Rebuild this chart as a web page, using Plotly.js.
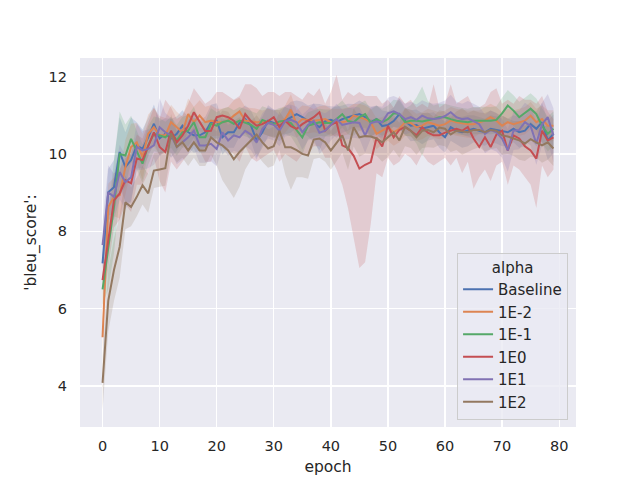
<!DOCTYPE html>
<html>
<head>
<meta charset="utf-8">
<script src="https://cdn.plot.ly/plotly-3.0.1.min.js"></script>
<style>
  html, body { margin: 0; padding: 0; background: #fff; }
  #chart { width: 640px; height: 480px; }
</style>
</head>
<body>
<div id="chart"></div>
<script>
// seaborn 풍 lineplot: alpha 별 bleu_score 평균선 + 95% CI 밴드
const epochs = Array.from({ length: 80 }, (_, i) => i);

const alphas = ['Baseline', '1E-2', '1E-1', '1E0', '1E1', '1E2'];

// 평균값
const meanBaseline = [
  7.17, 9.01, 9.14, 10.05, 9.66, 9.84, 10.22, 10.13, 10.43, 10.78,
  10.40, 10.52, 10.40, 10.52, 10.73, 10.56, 10.48, 10.48, 10.56, 10.82,
  10.86, 10.43, 10.56, 10.56, 10.80, 10.90, 10.73, 10.35, 10.56, 10.86,
  10.80, 10.73, 10.86, 10.95, 11.03, 10.95, 10.85, 10.80, 10.69, 10.85,
  10.88, 10.82, 10.90, 10.95, 10.99, 11.03, 10.95, 10.82, 10.90, 10.72,
  10.75, 10.85, 11.03, 10.85, 10.73, 10.75, 10.65, 10.70, 10.73, 10.56,
  10.43, 10.69, 10.60, 10.56, 10.60, 10.65, 10.60, 10.56, 10.65, 10.62,
  10.60, 10.56, 10.65, 10.56, 10.60, 10.77, 10.65, 10.82, 10.35, 10.52];
const mean1Em2 = [
  5.26, 8.63, 8.89, 8.93, 9.66, 10.18, 10.30, 9.92, 10.52, 10.69,
  10.48, 10.48, 10.82, 10.69, 10.56, 11.03, 10.82, 10.99, 10.82, 10.86,
  10.82, 10.82, 10.86, 10.99, 11.10, 10.86, 10.84, 10.82, 10.82, 10.82,
  10.77, 10.80, 10.90, 11.14, 10.77, 10.90, 10.88, 10.86, 10.88, 10.90,
  10.82, 10.82, 10.82, 10.85, 10.99, 10.95, 10.90, 10.82, 10.52, 10.60,
  10.69, 10.56, 10.65, 10.82, 10.80, 10.69, 10.73, 10.82, 10.78, 10.73,
  10.77, 10.86, 10.82, 10.80, 10.77, 10.77, 10.82, 10.86, 10.95, 10.86,
  10.73, 10.82, 10.77, 10.82, 10.86, 10.99, 10.82, 10.90, 10.73, 10.73];
const mean1Em1 = [
  6.50, 7.50, 8.63, 10.00, 9.96, 10.39, 10.09, 9.75, 10.22, 10.52,
  10.48, 10.43, 10.56, 10.35, 10.56, 10.60, 10.82, 10.43, 10.43, 10.78,
  10.73, 10.82, 10.86, 10.78, 10.86, 10.80, 10.75, 10.65, 10.88, 10.82,
  10.77, 10.84, 10.86, 10.80, 10.60, 10.43, 10.73, 10.78, 10.82, 10.80,
  10.80, 10.90, 11.03, 10.85, 10.82, 10.95, 11.03, 10.80, 10.90, 10.82,
  10.90, 11.05, 11.03, 10.82, 10.86, 10.86, 10.84, 10.87, 10.90, 10.95,
  10.95, 10.90, 10.86, 10.84, 10.82, 10.86, 10.86, 10.87, 10.86, 10.88,
  11.05, 11.25, 11.12, 10.95, 11.05, 11.17, 11.03, 10.73, 10.52, 10.65];
const mean1E0 = [
  6.74, 7.77, 8.80, 8.98, 9.32, 9.24, 9.88, 9.84, 10.22, 10.56,
  10.18, 10.05, 10.60, 10.30, 10.48, 10.73, 11.08, 10.82, 10.59, 10.60,
  10.95, 10.99, 10.95, 10.86, 10.65, 11.03, 10.85, 10.73, 10.77, 10.85,
  10.95, 10.69, 10.86, 10.72, 10.65, 10.77, 10.86, 10.95, 11.08, 10.60,
  10.75, 10.82, 10.22, 10.15, 9.95, 9.62, 9.72, 9.79, 10.42, 10.19,
  10.73, 10.43, 10.62, 10.70, 10.60, 10.48, 10.69, 10.55, 10.48, 10.48,
  10.55, 10.60, 10.65, 10.60, 10.70, 10.40, 10.18, 10.43, 10.18, 10.50,
  10.60, 10.09, 10.48, 10.40, 10.20, 10.09, 9.88, 10.60, 10.35, 10.43];
const mean1E1 = [
  7.64, 9.01, 8.89, 9.53, 9.27, 9.40, 10.18, 10.09, 10.13, 10.22,
  10.69, 10.56, 10.48, 10.18, 10.30, 10.43, 10.60, 10.22, 10.22, 10.26,
  10.13, 10.56, 10.35, 10.48, 10.43, 10.60, 10.50, 10.30, 10.65, 10.80,
  10.75, 10.60, 10.85, 10.88, 10.82, 10.56, 10.75, 10.86, 10.55, 10.60,
  10.75, 10.90, 10.75, 10.78, 10.82, 10.80, 10.48, 10.80, 10.84, 10.82,
  11.05, 11.10, 11.03, 10.90, 10.95, 10.88, 10.99, 10.92, 10.90, 10.92,
  10.98, 11.08, 10.95, 10.90, 10.92, 10.85, 10.77, 10.52, 10.62, 10.56,
  10.40, 10.09, 10.60, 10.62, 10.82, 10.72, 10.27, 10.77, 10.95, 10.48];
const mean1E2 = [
  4.08, 6.20, 7.00, 7.60, 8.75, 8.63, 8.89, 9.19, 8.98, 9.57,
  9.60, 9.63, 10.53, 10.18, 10.30, 10.09, 10.30, 10.09, 10.09, 10.43,
  10.30, 10.22, 10.09, 9.86, 10.05, 10.20, 10.35, 10.50, 10.30, 10.14,
  10.20, 10.60, 10.17, 10.17, 10.10, 10.00, 9.96, 10.37, 10.40, 10.30,
  10.09, 10.30, 10.48, 10.09, 10.69, 10.43, 10.46, 10.45, 10.40, 10.30,
  10.42, 10.56, 10.35, 10.70, 10.60, 10.43, 10.60, 10.62, 10.56, 10.68,
  10.65, 10.50, 10.60, 10.58, 10.56, 10.62, 10.62, 10.56, 10.62, 10.60,
  10.48, 10.45, 10.40, 10.35, 10.27, 10.38, 10.30, 10.22, 10.30, 10.14];

// CI 반폭 (대칭으로 읽은 값)
const hwBaseline = [
  0.5, 0.6, 0.7, 0.9, 0.9, 1.1, 0.6, 0.5, 0.5, 0.5,
  0.45, 0.4, 0.5, 0.45, 0.4, 0.4, 0.45, 0.4, 0.4, 0.45,
  0.45, 0.45, 0.4, 0.4, 0.35, 0.35, 0.4, 0.45, 0.4, 0.4,
  0.35, 0.4, 0.35, 0.4, 0.35, 0.4, 0.4, 0.5, 0.6, 0.4,
  0.35, 0.4, 0.35, 0.35, 0.3, 0.35, 0.35, 0.4, 0.35, 0.4,
  0.35, 0.35, 0.4, 0.35, 0.4, 0.4, 0.4, 0.35, 0.35, 0.4,
  0.4, 0.35, 0.35, 0.4, 0.4, 0.35, 0.35, 0.35, 0.35, 0.35,
  0.4, 0.35, 0.35, 0.4, 0.4, 0.4, 0.45, 0.5, 0.5, 0.5];
const hw1Em2 = [
  0.4, 0.6, 0.5, 0.6, 0.7, 0.6, 0.5, 0.6, 0.5, 0.5,
  0.5, 0.45, 0.45, 0.4, 0.4, 0.4, 0.4, 0.4, 0.4, 0.4,
  0.35, 0.35, 0.35, 0.4, 0.35, 0.35, 0.35, 0.35, 0.3, 0.35,
  0.35, 0.35, 0.35, 0.4, 0.35, 0.35, 0.35, 0.3, 0.35, 0.35,
  0.35, 0.35, 0.35, 0.35, 0.3, 0.35, 0.35, 0.35, 0.4, 0.35,
  0.35, 0.35, 0.35, 0.35, 0.35, 0.35, 0.35, 0.35, 0.35, 0.35,
  0.35, 0.35, 0.35, 0.35, 0.35, 0.35, 0.3, 0.35, 0.35, 0.35,
  0.35, 0.35, 0.35, 0.35, 0.35, 0.35, 0.35, 0.35, 0.4, 0.4];
const hw1Em1 = [
  0.4, 1.0, 1.2, 1.1, 0.8, 0.6, 0.5, 0.5, 0.5, 0.45,
  0.45, 0.4, 0.4, 0.4, 0.4, 0.4, 0.4, 0.4, 0.4, 0.4,
  0.35, 0.35, 0.35, 0.35, 0.35, 0.35, 0.35, 0.4, 0.35, 0.35,
  0.35, 0.35, 0.35, 0.35, 0.4, 0.45, 0.35, 0.35, 0.35, 0.35,
  0.35, 0.35, 0.35, 0.35, 0.35, 0.35, 0.35, 0.35, 0.35, 0.35,
  0.35, 0.35, 0.35, 0.35, 0.4, 0.6, 0.9, 0.5, 0.35, 0.35,
  0.35, 0.35, 0.35, 0.35, 0.35, 0.35, 0.35, 0.35, 0.35, 0.35,
  0.4, 0.4, 0.4, 0.4, 0.4, 0.4, 0.4, 0.45, 0.45, 0.45];
const hw1E1 = [
  0.6, 0.7, 0.6, 0.7, 0.7, 0.6, 0.6, 0.5, 0.5, 0.5,
  0.75, 0.5, 0.45, 0.45, 0.45, 0.45, 0.45, 0.45, 0.45, 0.45,
  0.45, 0.4, 0.4, 0.4, 0.4, 0.4, 0.4, 0.45, 0.4, 0.4,
  0.4, 0.4, 0.4, 0.4, 0.4, 0.45, 0.4, 0.45, 0.55, 0.45,
  0.4, 0.4, 0.4, 0.4, 0.4, 0.4, 0.45, 0.4, 0.4, 0.4,
  0.4, 0.4, 0.4, 0.4, 0.4, 0.4, 0.4, 0.4, 0.4, 0.4,
  0.4, 0.45, 0.4, 0.4, 0.45, 0.45, 0.45, 0.5, 0.5, 0.5,
  0.5, 0.55, 0.5, 0.5, 0.5, 0.5, 0.55, 0.55, 0.6, 0.7];
const hw1E2 = [
  0.7, 0.8, 0.8, 0.8, 0.7, 0.5, 0.5, 0.5, 0.5, 0.45,
  0.45, 0.45, 0.5, 0.4, 0.4, 0.4, 0.4, 0.4, 0.4, 0.45,
  0.6, 0.9, 1.0, 1.0, 0.9, 0.6, 0.5, 0.5, 0.5, 0.5,
  0.5, 0.5, 0.7, 1.1, 0.7, 0.6, 0.6, 0.5, 0.5, 0.5,
  0.5, 0.5, 0.45, 0.5, 0.5, 0.5, 0.45, 0.45, 0.45, 0.5,
  0.5, 0.45, 0.45, 0.5, 0.45, 0.45, 0.45, 0.45, 0.4, 0.45,
  0.45, 0.45, 0.5, 0.6, 0.5, 0.5, 0.45, 0.5, 0.5, 0.45,
  0.5, 0.45, 0.45, 0.5, 0.45, 0.45, 0.4, 0.45, 0.45, 0.45];

// 1E0 은 밴드가 비대칭(40 epoch 대 급락) → 하한/상한 직접
const lo1E0 = [
  6.0, 7.0, 8.1, 8.3, 8.7, 8.5, 9.2, 9.2, 9.5, 9.9,
  9.3, 9.0, 9.8, 9.6, 9.8, 10.0, 10.3, 10.1, 9.8, 9.8,
  10.2, 10.2, 10.1, 10.0, 9.8, 10.2, 9.9, 9.8, 9.9, 10.0,
  10.1, 9.8, 10.0, 9.9, 9.8, 10.0, 10.0, 10.2, 10.2, 9.9,
  9.9, 9.6, 9.2, 8.6, 7.8, 7.05, 7.2, 8.2, 9.5, 9.4,
  9.9, 9.7, 9.8, 10.0, 9.9, 9.7, 10.0, 9.8, 9.7, 9.8,
  9.9, 9.7, 9.9, 9.5, 9.8, 9.1, 9.4, 9.6, 9.3, 9.7,
  9.8, 9.2, 9.7, 9.6, 9.4, 9.2, 8.6, 9.7, 9.4, 9.6];
const hi1E0 = [
  7.4, 8.4, 9.5, 9.6, 9.9, 10.0, 10.5, 10.4, 10.8, 11.2,
  10.9, 11.4, 11.2, 10.9, 11.0, 11.3, 11.7, 11.5, 11.3, 11.4,
  11.6, 11.6, 11.5, 11.4, 11.5, 11.8, 11.8, 11.7, 11.5, 11.6,
  11.6, 11.5, 11.6, 11.6, 11.5, 11.4, 11.6, 11.5, 11.7, 11.3,
  11.6, 12.05, 11.4, 11.6, 11.5, 11.6, 11.5, 11.5, 11.5, 11.3,
  11.4, 11.2, 11.5, 11.3, 11.4, 11.2, 11.3, 11.2, 11.8, 11.2,
  11.3, 11.8, 11.3, 11.4, 11.5, 11.2, 11.2, 11.3, 11.6, 11.7,
  11.3, 11.4, 11.3, 11.5, 11.4, 11.4, 11.3, 11.5, 11.1, 10.9];

const COLORS = ['#4c72b0', '#dd8452', '#55a868', '#c44e52', '#8172b3', '#937860'];
const FONT = 'DejaVu Sans, sans-serif';
const TEXT = '#262626';

const sym = (m, hw, sign) => m.map((v, i) => v + sign * hw[i]);
const series = [
  { name: alphas[0], mean: meanBaseline, lo: sym(meanBaseline, hwBaseline, -1), hi: sym(meanBaseline, hwBaseline, 1) },
  { name: alphas[1], mean: mean1Em2, lo: sym(mean1Em2, hw1Em2, -1), hi: sym(mean1Em2, hw1Em2, 1) },
  { name: alphas[2], mean: mean1Em1, lo: sym(mean1Em1, hw1Em1, -1), hi: sym(mean1Em1, hw1Em1, 1) },
  { name: alphas[3], mean: mean1E0, lo: lo1E0, hi: hi1E0 },
  { name: alphas[4], mean: mean1E1, lo: sym(mean1E1, hw1E1, -1), hi: sym(mean1E1, hw1E1, 1) },
  { name: alphas[5], mean: mean1E2, lo: sym(mean1E2, hw1E2, -1), hi: sym(mean1E2, hw1E2, 1) },
];

function rgba(hex, a) {
  const n = parseInt(hex.slice(1), 16);
  return `rgba(${n >> 16},${(n >> 8) & 255},${n & 255},${a})`;
}

const traces = [];
// 밴드 먼저 (선보다 아래)
series.forEach((s, k) => {
  traces.push({ x: epochs, y: s.lo, mode: 'lines', line: { width: 0 }, showlegend: false, hoverinfo: 'skip' });
  traces.push({ x: epochs, y: s.hi, mode: 'lines', line: { width: 0 }, fill: 'tonexty',
    fillcolor: rgba(COLORS[k], 0.2), showlegend: false, hoverinfo: 'skip' });
});
series.forEach((s, k) => {
  traces.push({ x: epochs, y: s.mean, name: s.name, mode: 'lines', line: { color: COLORS[k], width: 2 } });
});

const layout = {
  width: 640, height: 480,
  paper_bgcolor: '#ffffff',
  plot_bgcolor: '#eaeaf2',
  font: { family: FONT, color: TEXT, size: 15 },
  margin: { l: 80, r: 64, t: 58, b: 53 },
  xaxis: {
    range: [-3.95, 82.95], tickvals: [0, 10, 20, 30, 40, 50, 60, 70, 80],
    gridcolor: '#ffffff', gridwidth: 1.3, zeroline: false, showline: false,
    ticks: '', ticklabelstandoff: 8, tickfont: { size: 14.5, color: TEXT },
    title: { text: 'epoch', font: { size: 15.5, color: TEXT }, standoff: 8 },
  },
  yaxis: {
    range: [2.94, 12.48], tickvals: [4, 6, 8, 10, 12],
    gridcolor: '#ffffff', gridwidth: 1.3, zeroline: false, showline: false,
    ticks: '', ticklabelstandoff: 12, tickfont: { size: 14.5, color: TEXT },
    title: { text: "'bleu_score':", font: { size: 15.5, color: TEXT }, standoff: 8 },
  },
  showlegend: true,
  legend: {
    x: 0.984, y: 0.02, xanchor: 'right', yanchor: 'bottom',
    traceorder: 'normal',
    bgcolor: 'rgba(234,234,242,0.8)', bordercolor: '#cccccc', borderwidth: 1,
    font: { size: 15, color: TEXT }, tracegroupgap: 0,
    title: { text: 'alpha', side: 'top center', font: { size: 15, color: TEXT } },
  },
};

Plotly.newPlot('chart', traces, layout, { displayModeBar: false, staticPlot: true });
</script>
</body>
</html>
